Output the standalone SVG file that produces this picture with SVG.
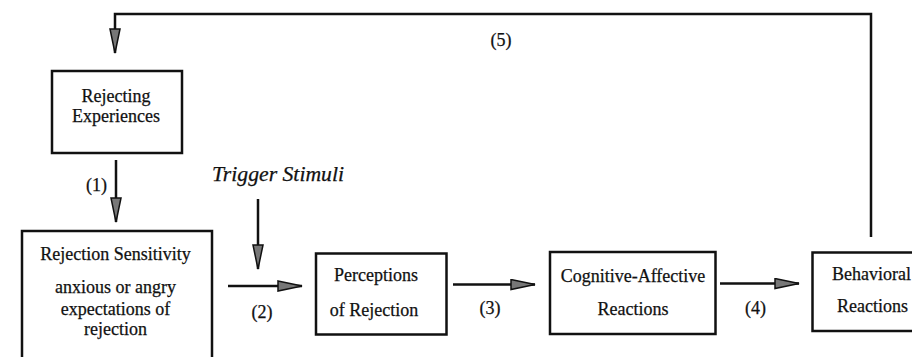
<svg xmlns="http://www.w3.org/2000/svg" width="912" height="357" viewBox="0 0 912 357">
<style>
  .box { fill: #fff; stroke: #111; stroke-width: 2.5; }
  .t { font-family: "Liberation Serif", "Times New Roman", serif; font-size: 18px; fill: #111; text-anchor: middle; stroke: #111; stroke-width: 0.25; }
  .ti { font-family: "Liberation Serif", "Times New Roman", serif; font-size: 20px; font-style: italic; fill: #111; stroke: #111; stroke-width: 0.25; }
  .conn { fill: none; stroke: #111; stroke-width: 2.5; }
</style>
<defs>
  <marker id="arr" markerUnits="userSpaceOnUse" markerWidth="28" markerHeight="14" refX="25" refY="6" orient="auto">
    <path d="M1,1 L25,6 L1,11 Z" fill="#777" stroke="#111" stroke-width="1.5" stroke-linejoin="miter"/>
  </marker>
</defs>
<rect width="912" height="357" fill="#fff"/>

<g id="connectors">
  <path class="conn" d="M871,237 V14 H115 V53" marker-end="url(#arr)"/>
  <path class="conn" d="M116,160 V222" marker-end="url(#arr)"/>
  <path class="conn" d="M258,199 V269" marker-end="url(#arr)"/>
  <path class="conn" d="M228,286 H302" marker-end="url(#arr)"/>
  <path class="conn" d="M453,284.5 H535" marker-end="url(#arr)"/>
  <path class="conn" d="M720,283.5 H799" marker-end="url(#arr)"/>
  <text class="t" x="501" y="45.5">(5)</text>
  <text class="t" x="96.5" y="191">(1)</text>
  <text class="t" x="262" y="318">(2)</text>
  <text class="t" x="490" y="314">(3)</text>
  <text class="t" x="755.5" y="314">(4)</text>
</g>

<g id="rejecting-experiences">
  <rect class="box" x="52" y="71" width="130" height="82"/>
  <text class="t" x="116" y="101.5">Rejecting</text>
  <text class="t" x="116" y="121.5">Experiences</text>
</g>

<g id="trigger-stimuli">
  <text class="ti" x="212" y="181" textLength="132" lengthAdjust="spacingAndGlyphs">Trigger Stimuli</text>
</g>

<g id="rejection-sensitivity">
  <rect class="box" x="22" y="231" width="190" height="140"/>
  <text class="t" x="115.5" y="259.5">Rejection Sensitivity</text>
  <text class="t" x="115.5" y="293">anxious or angry</text>
  <text class="t" x="115.5" y="314.5">expectations of</text>
  <text class="t" x="115.5" y="335">rejection</text>
</g>

<g id="perceptions">
  <rect class="box" x="316" y="253.5" width="130.5" height="81"/>
  <text class="t" x="376" y="281">Perceptions</text>
  <text class="t" x="374" y="316">of Rejection</text>
</g>

<g id="cognitive-affective">
  <rect class="box" x="550" y="252" width="165.5" height="82"/>
  <text class="t" x="633" y="281.5">Cognitive-Affective</text>
  <text class="t" x="633" y="315">Reactions</text>
</g>

<g id="behavioral">
  <rect class="box" x="812.5" y="252.5" width="130" height="78.5"/>
  <text class="t" x="871.5" y="280">Behavioral</text>
  <text class="t" x="872.5" y="312">Reactions</text>
</g>
</svg>
